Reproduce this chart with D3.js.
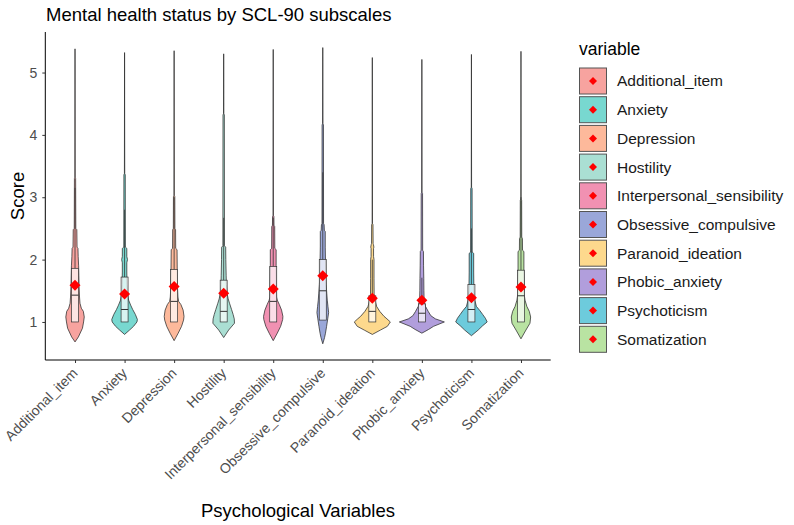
<!DOCTYPE html>
<html>
<head>
<meta charset="utf-8">
<script src="https://cdnjs.cloudflare.com/ajax/libs/d3/7.8.5/d3.min.js"></script>
<style>
  body { margin: 0; background: #fff; }
  text { font-family: "Liberation Sans", Arial, sans-serif; }
</style>
</head>
<body>
<div class="violin-figure"></div>
<script>
// subscales (x categories)
let categories = ["Additional_item", "Anxiety", "Depression", "Hostility", "Interpersonal_sensibility",
  "Obsessive_compulsive", "Paranoid_ideation", "Phobic_anxiety", "Psychoticism", "Somatization"];

let fills = ["#F7A39F", "#78D8D0", "#FDB99B", "#AADFD3", "#F191B2",
  "#9AA7D9", "#FDD98D", "#B19EDC", "#6DCBDC", "#B9E3A2"];

// means (red diamonds)
let means = [1.59, 1.45, 1.57, 1.46, 1.53, 1.74, 1.38, 1.35, 1.39, 1.56];

// boxplot stats
let q1s = [1.0, 1.0, 1.0, 1.0, 1.0, 1.03, 1.0, 1.0, 1.0, 1.0];
let medians = [1.43, 1.2, 1.33, 1.17, 1.33, 1.5, 1.17, 1.14, 1.2, 1.42];
let q3s = [1.86, 1.72, 1.84, 1.67, 1.89, 2.0, 1.42, 1.29, 1.6, 1.83];
let whiskerHi = [3.15, 2.8, 3.0, 2.67, 2.67, 3.4, 2.0, 1.71, 2.5, 3.0];

let yTicks = [1, 2, 3, 4, 5];

// violin profiles: [score, relative density]
let violins = [
  [[0.68,0],[0.76,.15],[0.9,.33],[1.0,.38],[1.08,.41],[1.17,.37],[1.22,.28],[1.3,.22],[1.4,.2],[1.57,.18],[1.75,.17],[1.9,.16],[2.05,.14],[2.18,.13],[2.2,.09],[2.48,.08],[2.5,.035],[3.3,.027],[3.32,.007],[5.38,0]],
  [[0.8,0],[0.87,.22],[0.93,.4],[1.0,.55],[1.04,.57],[1.12,.48],[1.2,.36],[1.27,.27],[1.35,.18],[1.46,.13],[1.6,.11],[1.8,.1],[1.95,.1],[2.0,.13],[2.05,.1],[2.18,.1],[2.2,.035],[3.36,.03],[3.38,.007],[5.32,0]],
  [[0.7,0],[0.82,.18],[0.93,.33],[1.03,.42],[1.09,.44],[1.19,.4],[1.28,.3],[1.33,.2],[1.4,.17],[1.55,.15],[1.8,.14],[2.16,.13],[2.18,.07],[2.48,.065],[2.5,.035],[3.01,.03],[3.03,.007],[5.35,0]],
  [[0.75,0],[0.87,.22],[0.98,.48],[1.05,.47],[1.12,.42],[1.2,.35],[1.3,.26],[1.37,.2],[1.46,.15],[1.6,.12],[1.75,.11],[2.0,.095],[2.2,.09],[2.22,.035],[4.32,.03],[4.34,.007],[5.30,0]],
  [[0.7,0],[0.82,.18],[0.93,.33],[1.04,.42],[1.09,.43],[1.19,.37],[1.28,.27],[1.35,.18],[1.4,.15],[1.6,.14],[1.9,.13],[2.16,.13],[2.18,.07],[2.53,.065],[2.55,.035],[2.69,.03],[2.71,.007],[5.37,0]],
  [[0.65,0],[0.75,.08],[0.82,.12],[0.93,.17],[1.05,.22],[1.15,.26],[1.25,.23],[1.35,.2],[1.45,.18],[1.6,.15],[1.75,.13],[2.0,.12],[2.2,.11],[2.45,.11],[2.47,.07],[2.56,.06],[2.58,.035],[4.16,.03],[4.18,.007],[5.40,0]],
  [[0.8,0],[0.87,.36],[0.93,.67],[1.0,.8],[1.05,.65],[1.09,.52],[1.17,.33],[1.25,.19],[1.35,.12],[1.45,.08],[1.7,.075],[2.0,.075],[2.05,.055],[2.18,.055],[2.2,.07],[2.24,.05],[2.26,.035],[2.56,.03],[2.58,.007],[5.24,0]],
  [[0.82,0],[0.88,.3],[0.93,.52],[1.0,1.0],[1.05,.6],[1.1,.4],[1.17,.28],[1.25,.16],[1.35,.1],[1.5,.09],[1.7,.085],[1.9,.075],[2.13,.07],[2.15,.035],[3.06,.03],[3.08,.007],[5.21,0]],
  [[0.78,0],[0.87,.3],[0.94,.5],[1.0,.7],[1.06,.62],[1.12,.5],[1.18,.38],[1.25,.22],[1.35,.15],[1.5,.11],[1.8,.1],[2.1,.1],[2.12,.035],[3.14,.03],[3.16,.007],[5.29,0]],
  [[0.73,0],[0.87,.22],[0.98,.4],[1.08,.43],[1.17,.37],[1.25,.26],[1.35,.18],[1.45,.14],[1.6,.14],[1.85,.13],[2.13,.13],[2.15,.07],[2.34,.065],[2.36,.035],[2.95,.03],[2.97,.007],[5.34,0]]
];

let width = 794, height = 525;
let panel = {left: 45.3, right: 550.7, top: 32, bottom: 360};

let svg = d3.select(".violin-figure")
  .append("svg")
  .attr("width", width)
  .attr("height", height);

let x = d3.scalePoint()
  .domain(categories)
  .range([panel.left, panel.right])
  .padding(0.6);

let y = d3.scaleLinear()
  .domain([0.39, 5.65])
  .range([panel.bottom, panel.top]);

// density -> half width in px
let w = d3.scaleLinear().domain([0, 1]).range([0, 22.5]);

let color = d3.scaleOrdinal().domain(categories).range(fills);

// violins
categories.forEach(function(c, i) {
  let cx = x(c);
  let area = d3.area()
    .y(d => y(d[0]))
    .x0(d => cx - w(d[1]))
    .x1(d => cx + w(d[1]));
  svg.append("path")
    .attr("d", area(violins[i]))
    .attr("fill", color(c))
    .attr("stroke", "#2b2b2b")
    .attr("stroke-width", 0.75);
});

// boxplots
let bw = 3.5;
categories.forEach(function(c, i) {
  let cx = x(c);
  let g = svg.append("g");
  g.append("line")
    .attr("x1", cx).attr("x2", cx)
    .attr("y1", y(q3s[i])).attr("y2", y(whiskerHi[i]))
    .attr("stroke", "#333").attr("stroke-width", 0.8);
  g.append("rect")
    .attr("x", cx - bw)
    .attr("y", y(q3s[i]))
    .attr("width", bw * 2)
    .attr("height", y(q1s[i]) - y(q3s[i]))
    .attr("fill", "#fff").attr("fill-opacity", 0.7)
    .attr("stroke", "#333").attr("stroke-width", 0.7);
  g.append("line")
    .attr("x1", cx - bw).attr("x2", cx + bw)
    .attr("y1", y(medians[i])).attr("y2", y(medians[i]))
    .attr("stroke", "#333").attr("stroke-width", 1);
});

// means
let diamond = (cx, cy, r) => "M" + cx + "," + (cy - r) + "L" + (cx + r) + "," + cy +
  "L" + cx + "," + (cy + r) + "L" + (cx - r) + "," + cy + "Z";

svg.selectAll(".mean")
  .data(categories)
  .enter()
  .append("path")
  .attr("class", "mean")
  .attr("d", (c, i) => diamond(x(c), y(means[i]), 5.5))
  .attr("fill", "#FF0000");

// axes
let yAxis = svg.append("g")
  .attr("transform", "translate(" + panel.left + ",0)")
  .call(d3.axisLeft(y).tickValues(yTicks).tickSize(3).tickPadding(5).tickFormat(d3.format("d")));
yAxis.select(".domain").attr("d", "M0," + panel.top + "V" + panel.bottom).attr("stroke", "#000");
yAxis.selectAll(".tick line").attr("stroke", "#333");
yAxis.selectAll(".tick text")
  .attr("fill", "#4D4D4D")
  .style("font-size", "14px")
  .style("font-family", "Liberation Sans, Arial, sans-serif");

let xAxis = svg.append("g")
  .attr("transform", "translate(0," + panel.bottom + ")")
  .call(d3.axisBottom(x).tickSize(3));
xAxis.select(".domain").attr("d", "M" + panel.left + ",0H" + panel.right).attr("stroke", "#000");
xAxis.selectAll(".tick line").attr("stroke", "#333");
xAxis.selectAll(".tick text")
  .attr("fill", "#4D4D4D")
  .style("font-size", "14px")
  .style("font-family", "Liberation Sans, Arial, sans-serif")
  .attr("text-anchor", "end")
  .attr("y", 0)
  .attr("dy", 0)
  .attr("transform", "translate(3,14) rotate(-45)");

// titles
svg.append("text")
  .attr("x", 46).attr("y", 21)
  .style("font-size", "18.5px")
  .attr("fill", "#000")
  .text("Mental health status by SCL-90 subscales");

svg.append("text")
  .attr("transform", "translate(24," + ((panel.top + panel.bottom) / 2) + ") rotate(-90)")
  .attr("text-anchor", "middle")
  .style("font-size", "18.5px")
  .text("Score");

svg.append("text")
  .attr("x", (panel.left + panel.right) / 2).attr("y", 517)
  .attr("text-anchor", "middle")
  .style("font-size", "18.5px")
  .text("Psychological Variables");

// legend
let legend = svg.append("g").attr("transform", "translate(579,0)");
legend.append("text")
  .attr("x", 0).attr("y", 55)
  .style("font-size", "17.5px")
  .text("variable");

let keys = legend.selectAll(".key")
  .data(categories)
  .enter()
  .append("g")
  .attr("class", "key")
  .attr("transform", (c, i) => "translate(0," + (67.5 + i * 28.7) + ")");

keys.append("rect")
  .attr("x", 0.5).attr("y", 0.5)
  .attr("width", 27).attr("height", 26)
  .attr("fill", c => color(c))
  .attr("stroke", "#555").attr("stroke-width", 1);

keys.append("path")
  .attr("d", diamond(14, 13.5, 4))
  .attr("fill", "#FF0000");

keys.append("text")
  .attr("x", 38).attr("y", 13.5)
  .attr("dy", "0.35em")
  .style("font-size", "15.5px")
  .attr("fill", "#1A1A1A")
  .text(c => c);
</script>
</body>
</html>
